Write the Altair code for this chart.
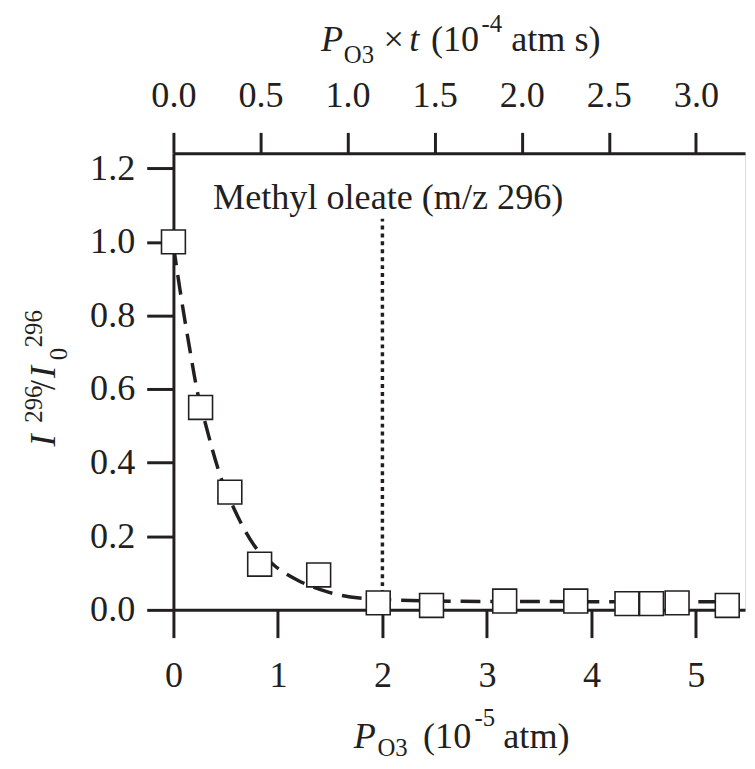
import altair as alt
import pandas as pd

# ---- data ----
point_x = [0.0, 0.26, 0.54, 0.825, 1.39, 1.96, 2.47, 3.17, 3.85, 4.34, 4.575, 4.82, 5.30]
point_y = [1.0, 0.55, 0.32, 0.124, 0.095, 0.019, 0.012, 0.024, 0.024, 0.017, 0.017, 0.019, 0.012]

curve_x = [0.0, 0.074, 0.153, 0.232, 0.296, 0.46, 0.58, 0.77, 0.96, 1.18, 1.46, 1.78,
           2.1, 2.5, 3.0, 3.5, 4.0, 4.5, 5.0, 5.3]
curve_y = [0.99, 0.849, 0.714, 0.589, 0.517, 0.355, 0.275, 0.176, 0.122, 0.082, 0.050, 0.032,
           0.027, 0.024, 0.023, 0.023, 0.022, 0.022, 0.022, 0.022]

bottom_ticks = [0, 1, 2, 3, 4, 5]
top_ticks = [0.0, 0.5, 1.0, 1.5, 2.0, 2.5, 3.0]
y_ticks = [0.0, 0.2, 0.4, 0.6, 0.8, 1.0, 1.2]

marker_x = [2.0]
marker_y0 = [0.0]
marker_y1 = [1.063]
annotation = ["Methyl oleate (m/z 296)"]

X_MAX = 5.47
Y_MAX = 1.241
TOP_FACTOR = 0.6  # top axis = 0.6 x bottom axis

# ---- style ----
INK = "#231f20"
FONT = "Liberation Serif"
FS = 36.5
FS_SMALL = 25
W, H = 577, 461
LEFT, TOP = 175, 151  # absolute page position of plot origin

points_df = pd.DataFrame({"x": point_x, "y": point_y})
curve_df = pd.DataFrame({"x": curve_x, "y": curve_y})
rule_df = pd.DataFrame({"x": marker_x, "y0": marker_y0, "y1": marker_y1})

xscale = alt.Scale(domain=[0, X_MAX], nice=False, zero=False)
yscale = alt.Scale(domain=[0, Y_MAX], nice=False, zero=False)

axis_common = dict(
    title=None, grid=False, domainColor=INK, domainWidth=3, tickColor=INK, tickWidth=3,
    labelFont=FONT, labelFontSize=FS, labelColor=INK, labelFlush=False, labelOverlap=False,
)
xaxis = alt.Axis(orient="bottom", values=bottom_ticks, format="d", tickSize=28,
                 labelPadding=20, **axis_common)
yaxis = alt.Axis(orient="left", values=y_ticks, format=".1f", tickSize=27,
                 labelPadding=12, **axis_common)
topaxis = alt.Axis(orient="top", values=top_ticks, format=".1f", tickSize=21,
                   labelPadding=18, **axis_common)

X = alt.X("x:Q", scale=xscale, axis=xaxis)
Y = alt.Y("y:Q", scale=yscale, axis=yaxis)

rule = alt.Chart(rule_df).mark_rule(strokeDash=[4, 4], strokeWidth=3.5, color=INK).encode(
    x=alt.X("x:Q", scale=xscale, axis=xaxis),
    y=alt.Y("y0:Q", scale=yscale, axis=yaxis),
    y2="y1:Q",
)

curve = alt.Chart(curve_df).mark_line(
    strokeDash=[20, 10], strokeWidth=3.5, color=INK, interpolate="monotone"
).encode(x=X, y=Y)

points = alt.Chart(points_df).mark_point(
    shape="square", filled=True, fill="white", stroke=INK, strokeWidth=1.6,
    size=580, opacity=1
).encode(x=X, y=Y)


def piece(text, px, py, size=FS, italic=False, angle=0):
    kw = dict(align="left", baseline="alphabetic", fontSize=size, font=FONT,
              color=INK, fontStyle="italic" if italic else "normal")
    if angle:
        kw["angle"] = angle
    return alt.Chart(pd.DataFrame({"t": [text]})).mark_text(**kw).encode(
        x=alt.value(px - LEFT), y=alt.value(py - TOP), text="t:N"
    )


texts = [
    piece(annotation[0], 215, 207),
    # bottom title: P_O3 (10^-5 atm)
    piece("P", 357, 751, italic=True),
    piece("O3", 381, 760, size=FS_SMALL),
    piece("(10", 427, 751),
    piece("-5", 479, 729, size=FS_SMALL),
    piece("atm)", 508, 751),
    # top title: P_O3 x t (10^-4 atm s)
    piece("P", 324, 48, italic=True),
    piece("O3", 347, 60, size=FS_SMALL),
    piece("\u00d7", 387, 48),
    piece("t", 413, 48, italic=True),
    piece("(10", 435, 48),
    piece("-4", 486, 29, size=FS_SMALL),
    piece("atm s)", 516, 48),
    # y title: I^296 / I_0^296 (rotated)
    piece("I", 55, 447, italic=True, angle=270),
    piece("296", 42, 423, size=FS_SMALL, angle=270),
    piece("/", 55, 390, angle=270),
    piece("I", 55, 378, italic=True, angle=270),
    piece("0", 68, 360, size=FS_SMALL, angle=270),
    piece("296", 42, 347, size=FS_SMALL, angle=270),
]

main = alt.layer(rule, curve, points, *texts)

top = alt.Chart(pd.DataFrame({"xt": top_ticks})).mark_point(opacity=0).encode(
    x=alt.X("xt:Q", scale=alt.Scale(domain=[0, X_MAX * TOP_FACTOR], nice=False, zero=False),
            axis=topaxis)
)

chart = alt.layer(main, top).resolve_scale(x="independent").properties(
    width=W, height=H,
    padding={"left": LEFT - 8, "top": TOP - 8, "right": 2, "bottom": 149},
    autosize=alt.AutoSizeParams(type="none"),
).configure_view(stroke=INK, strokeWidth=2).configure(background="white")

chart.save("out.html", embed_options={"renderer": "svg", "actions": False})
